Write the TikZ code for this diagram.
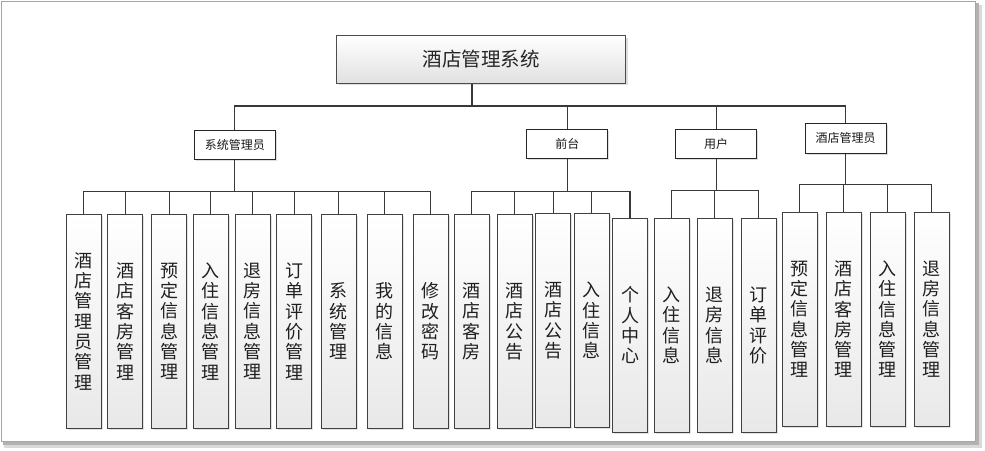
\documentclass[tikz,border=0pt]{standalone}
\usepackage{fontspec}
\newfontfamily\cjk{Noto Sans CJK SC}
\usetikzlibrary{shadows}
\begin{document}
\begin{tikzpicture}[x=1pt,y=-1pt,
  line/.style={draw=black!78, line width=1.2pt},
  topbox/.style={draw=black!70, line width=0.9pt, shading=axis, top color=white, bottom color=black!12,
    minimum width=289pt, minimum height=47.6pt, inner sep=0pt, text=black!85,
    font=\cjk\fontsize{19.5}{22}\selectfont,
    drop shadow={shadow xshift=2pt, shadow yshift=-2pt, fill=black!25}},
  rolebox/.style={draw=black!85, line width=1pt, fill=white, minimum width=81pt, minimum height=29pt,
    inner sep=0pt, text=black!90, font=\cjk\fontsize{12}{14}\selectfont,
    drop shadow={shadow xshift=1.5pt, shadow yshift=-1.5pt, fill=black!25}},
  leaf/.style={draw=black!75, line width=0.9pt, shading=axis, top color=white, bottom color=black!9,
    minimum width=35pt, minimum height=214pt, inner sep=0pt, align=center, text=black!88,
    font=\cjk\fontsize{18}{20.3}\selectfont,
    drop shadow={shadow xshift=1.5pt, shadow yshift=-1.5pt, fill=black!22}}]
\useasboundingbox (0,0) rectangle (985,450);
% frame with shadow
\fill[black!15] (4,5) rectangle (982,448);
\fill[black!30] (3,3) rectangle (979,445);
\draw[black!35, fill=white, line width=1pt] (1,1) rectangle (975,441);

% root
\node[topbox] (root) at (481.1,59.5) {酒店管理系统};

% roles
\node[rolebox] (r1) at (234.8,145) {系统管理员};
\node[rolebox] (r2) at (567.3,143.8) {前台};
\node[rolebox] (r3) at (716.2,143.8) {用户};
\node[rolebox, minimum height=30pt] (r4) at (845.7,138.3) {酒店管理员};

% leaves group A
\node[leaf] (a1) at (83.8,321.3) {酒\\店\\管\\理\\员\\管\\理};
\node[leaf] (a2) at (125.2,321.3) {酒\\店\\客\\房\\管\\理};
\node[leaf] (a3) at (169.2,321.3) {预\\定\\信\\息\\管\\理};
\node[leaf] (a4) at (210.8,321.3) {入\\住\\信\\息\\管\\理};
\node[leaf] (a5) at (252.5,321.3) {退\\房\\信\\息\\管\\理};
\node[leaf] (a6) at (294.2,321.3) {订\\单\\评\\价\\管\\理};
\node[leaf] (a7) at (338.8,321.3) {系\\统\\管\\理};
\node[leaf] (a8) at (384.8,321.3) {我\\的\\信\\息};
\node[leaf] (a9) at (430.8,321.3) {修\\改\\密\\码};
% group B
\node[leaf] (b1) at (471.8,321.3) {酒\\店\\客\\房};
\node[leaf] (b2) at (514.8,321.3) {酒\\店\\公\\告};
\node[leaf] (b3) at (553.2,320.5) {酒\\店\\公\\告};
\node[leaf] (b4) at (591.8,320.5) {入\\住\\信\\息};
\node[leaf] (b5) at (630,325.3) {个\\人\\中\\心};
% group C
\node[leaf] (c1) at (671.8,325.3) {入\\住\\信\\息};
\node[leaf] (c2) at (714.5,325.3) {退\\房\\信\\息};
\node[leaf] (c3) at (758.7,325.3) {订\\单\\评\\价};
% group D
\node[leaf, minimum height=213.7pt] (d1) at (799.8,319.2) {预\\定\\信\\息\\管\\理};
\node[leaf, minimum height=213.7pt] (d2) at (843.8,319.2) {酒\\店\\客\\房\\管\\理};
\node[leaf, minimum height=213.7pt] (d3) at (887.8,319.2) {入\\住\\信\\息\\管\\理};
\node[leaf, minimum height=213.7pt] (d4) at (931.8,319.2) {退\\房\\信\\息\\管\\理};

% top-level connectors
\coordinate (t0) at (472,106);
\draw[line] (root.south -| t0) -- (t0);
\draw[line] (r1.north) |- (t0) -| (r4.north);
\draw[line] (t0) -| (r2.north);
\draw[line] (t0) -| (r3.north);

% role to leaves
\foreach \c in {a1,a2,a3,a4,a5,a6,a7,a8,a9}
  \draw[line] (r1.south) -- ++(0,31.4) -| (\c.north);
\foreach \c in {b1,b2,b3,b4,b5}
  \draw[line] (r2.south) -- ++(0,32.4) -| (\c.north);
\foreach \c in {c1,c2,c3}
  \draw[line] (r3.south) -- ++(0,31.7) -| (\c.north);
\foreach \c in {d1,d2,d3,d4}
  \draw[line] (r4.south) -- ++(0,30.7) -| (\c.north);
\end{tikzpicture}
\end{document}
